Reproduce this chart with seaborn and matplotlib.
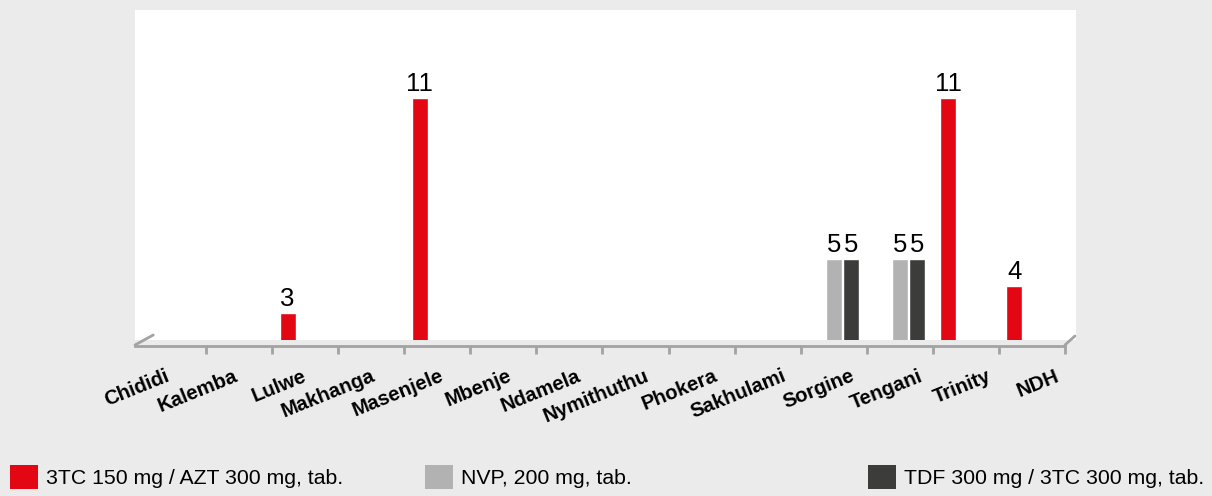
import numpy as np
import pandas as pd
import matplotlib
matplotlib.use("Agg")
import matplotlib.pyplot as plt
import matplotlib.transforms as mtransforms
from matplotlib.patches import Patch
import seaborn as sns

# data (NaN = no bar)
sites = ["Chididi", "Kalemba", "Lulwe", "Makhanga", "Masenjele", "Mbenje", "Ndamela",
         "Nymithuthu", "Phokera", "Sakhulami", "Sorgine", "Tengani", "Trinity", "NDH"]
products = ["3TC 150 mg / AZT 300 mg, tab.", "NVP, 200 mg, tab.", "TDF 300 mg / 3TC 300 mg, tab."]
azt = [np.nan, np.nan, 3, np.nan, 11, np.nan, np.nan, np.nan, np.nan, np.nan, np.nan, np.nan, 11, 4]
nvp = [np.nan] * 10 + [5, 5, np.nan, np.nan]
tdf = [np.nan] * 10 + [5, 5, np.nan, np.nan]
colors = ["#e30613", "#b2b2b2", "#3c3c3b"]

df = pd.DataFrame({"site": sites * 3,
                   "product": np.repeat(products, len(sites)),
                   "qty": azt + nvp + tdf})

sns.set_style("white")
plt.rcParams["font.family"] = ["Liberation Sans", "DejaVu Sans"]
plt.rcParams["text.color"] = "black"

fig = plt.figure(figsize=(12.12, 4.96), dpi=100, facecolor="#ebebeb")
ax = fig.add_axes([135 / 1212, 156 / 496, 941 / 1212, 330 / 496])
ax.set_facecolor("white")

sns.barplot(data=df, x="site", y="qty", hue="product", order=sites, hue_order=products,
            palette=colors, width=0.8, gap=0.1, saturation=1, legend=False, ax=ax)

for c in ax.containers:
    ax.bar_label(c, fmt="%g", fontsize=18.5, padding=1.5, color="black")

ax.set_ylim(2, 14.27)
ax.set_xlim(-0.576, 13.667)
ax.set_xlabel("")
ax.set_ylabel("")
ax.set_yticks([])
for s in ["top", "left", "right"]:
    ax.spines[s].set_visible(False)

axis_grey = "#a3a3a3"
sp = ax.spines["bottom"]
sp.set_position(("outward", 4))
sp.set_bounds(-0.576, 13.5)
sp.set_color(axis_grey)
sp.set_linewidth(2)

# ticks at the slot edges, labels at the slot centres
ax.set_xticks(np.arange(0.5, 14, 1), minor=True)
ax.tick_params(axis="x", which="minor", bottom=True, direction="out", length=6, width=2, color=axis_grey)
ax.tick_params(axis="x", which="major", bottom=True, length=0, pad=15, labelsize=14.6, labelcolor="black")
# labels in the original fan out a little wider than the slots
for i, lab in enumerate(ax.get_xticklabels()):
    nudge = (-8 + 2.4 * i) / 100
    lab.set_rotation(22)
    lab.set_ha("right")
    lab.set_va("top")
    lab.set_rotation_mode("anchor")
    lab.set_fontweight("bold")
    lab.set_transform(lab.get_transform() + mtransforms.ScaledTranslation(nudge, 0, fig.dpi_scale_trans))

# the little "3d" floor corners at each end of the axis line
tr = ax.get_xaxis_transform()
ax.plot([-0.576, -0.30], [-5 / 330, 5 / 330], color=axis_grey, lw=2, transform=tr, clip_on=False)
ax.plot([13.5, 13.65], [-5 / 330, 4 / 330], color=axis_grey, lw=2, transform=tr, clip_on=False)

# legend, three separate entries along the bottom
fs = 15.3
for x0, name, col in zip([10 / 1212, 425 / 1212, 868 / 1212], products, colors):
    fig.legend(handles=[Patch(facecolor=col, edgecolor="none", label=name)],
               loc="center left", bbox_to_anchor=(x0, 19 / 496), frameon=False,
               fontsize=fs, borderpad=0, borderaxespad=0, labelcolor="black",
               handlelength=28 / 21.2, handleheight=30 / 21.2, handletextpad=0.38)

fig.savefig("out.png", dpi=100, facecolor=fig.get_facecolor())
